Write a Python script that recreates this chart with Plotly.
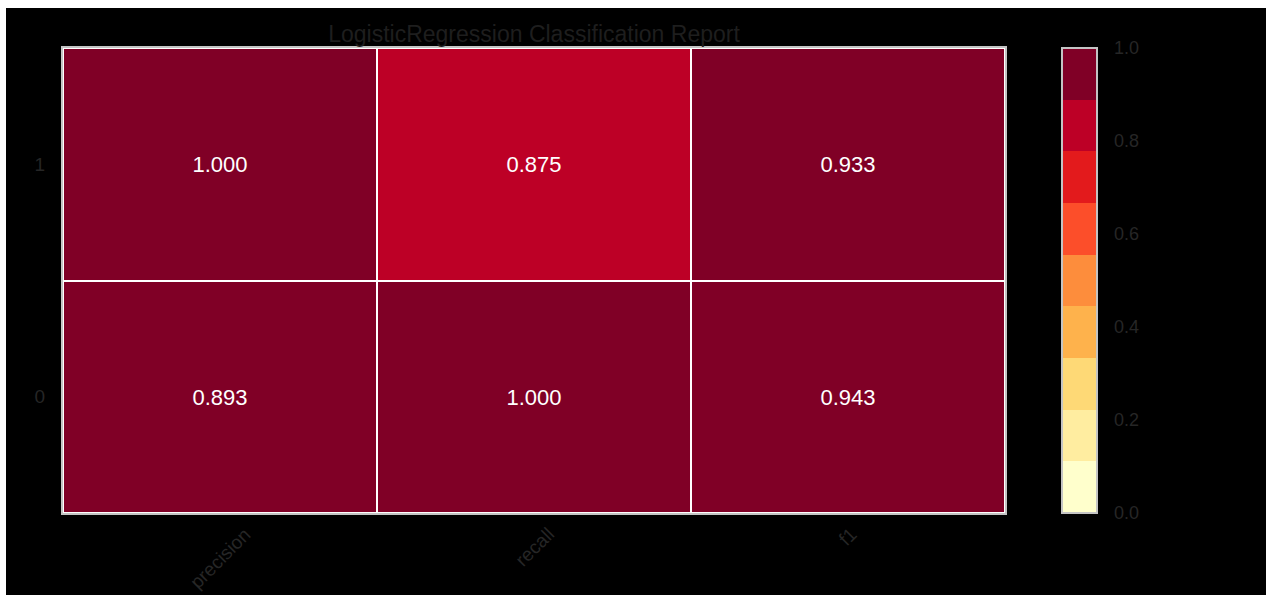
import plotly.graph_objects as go

# ---- data ----
metrics = ["precision", "recall", "f1"]
classes = ["0", "1"]
class0_scores = [0.893, 1.000, 0.943]
class1_scores = [1.000, 0.875, 0.933]
colorbar_ticks = [0.0, 0.2, 0.4, 0.6, 0.8, 1.0]
ylorrd9 = ["#ffffcc", "#ffeda0", "#fed976", "#feb24c", "#fd8d3c",
           "#fc4e2a", "#e31a1c", "#bd0026", "#800026"]
title_text = "LogisticRegression Classification Report"

FONT = "Liberation Sans, Arial"
LABEL = "#262626"

# ---- layout geometry (pixels) ----
W, H = 1266, 595
L, R, T, B = 63, 1005, 48, 513
pw, ph = R - L, B - T

# discrete colorscale
n = len(ylorrd9)
cs = []
for i, c in enumerate(ylorrd9):
    cs.append([i / n, c])
    cs.append([(i + 1) / n, c])

z = [class0_scores, class1_scores]

fig = go.Figure(go.Heatmap(
    z=z, x=list(range(len(metrics))), y=list(range(len(classes))),
    zmin=0, zmax=1, colorscale=cs, xgap=2, ygap=2,
    texttemplate="%{z:.3f}",
    textfont=dict(color="white", size=22, family=FONT),
    hoverinfo="skip",
    colorbar=dict(
        x=(1062 - L) / pw, xanchor="left", xpad=0, ypad=0,
        y=0.5, yanchor="middle", len=1, lenmode="fraction",
        thickness=35, outlinecolor="#c4c4c4", outlinewidth=2,
        tickvals=colorbar_ticks, ticktext=[f"{v:.1f}" for v in colorbar_ticks],
        ticks="outside", ticklen=13, tickcolor="rgba(0,0,0,0)",
        tickfont=dict(size=18, color=LABEL, family=FONT),
    ),
))

# rotated x labels (centred on tick, like matplotlib)
for i, m in enumerate(metrics):
    fig.add_annotation(x=i, y=0, xref="x", yref="paper", text=m,
                       textangle=-45, showarrow=False, xanchor="center",
                       yanchor="top", yshift=-8,
                       font=dict(size=19, color=LABEL, family=FONT))

# white outer strips (top & left) of the original picture
fig.add_shape(type="rect", xref="paper", yref="paper",
              x0=-L / pw, x1=(W - L) / pw, y0=(B - 8) / ph, y1=B / ph,
              fillcolor="white", line_width=0, layer="above")
fig.add_shape(type="rect", xref="paper", yref="paper",
              x0=-L / pw, x1=(6 - L) / pw, y0=(B - H) / ph, y1=B / ph,
              fillcolor="white", line_width=0, layer="above")

fig.update_layout(
    width=W, height=H,
    margin=dict(l=L, r=W - R, t=T, b=H - B, pad=0),
    paper_bgcolor="black", plot_bgcolor="white",
    font=dict(family=FONT, color=LABEL),
    title=dict(text=title_text, x=0.5, xref="paper", y=1 - 34 / H,
               yref="container", xanchor="center", yanchor="middle",
               font=dict(size=23, color="#1e1e1e", family=FONT)),
    xaxis=dict(range=[-0.5, len(metrics) - 0.5], showticklabels=False,
               showgrid=False, zeroline=False, ticks="",
               showline=True, mirror=True, linecolor="#c4c4c4", linewidth=2),
    yaxis=dict(range=[-0.5, len(classes) - 0.5], tickvals=list(range(len(classes))),
               ticktext=classes, showgrid=False, zeroline=False,
               ticks="outside", ticklen=12, tickcolor="rgba(0,0,0,0)",
               tickfont=dict(size=19, color=LABEL, family=FONT),
               showline=True, mirror=True, linecolor="#c4c4c4", linewidth=2),
)

fig.write_html("out.html")
